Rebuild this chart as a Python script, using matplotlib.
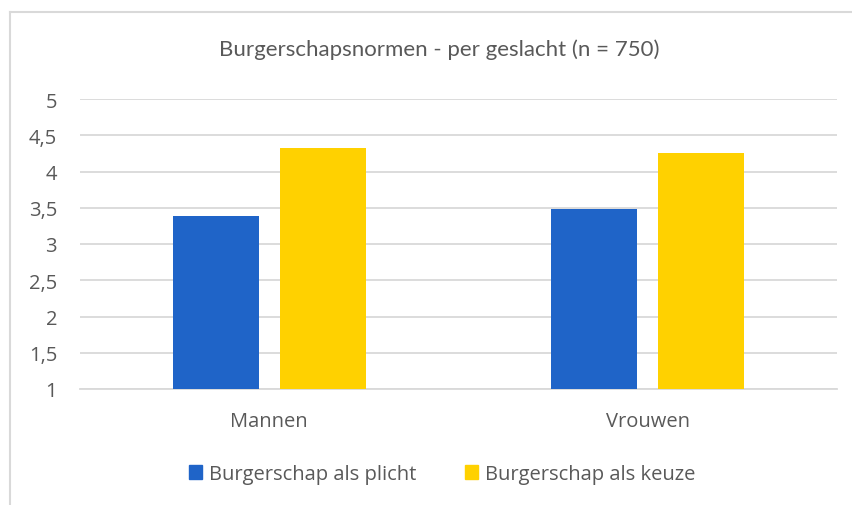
import matplotlib
matplotlib.use('Agg')
import matplotlib.pyplot as plt
from matplotlib.patches import Patch
from matplotlib.lines import Line2D
import numpy as np

categories = ['Mannen', 'Vrouwen']
series_names = ['Burgerschap als plicht', 'Burgerschap als keuze']
plicht = [3.38, 3.48]
keuze = [4.32, 4.25]
yticks = [1, 1.5, 2, 2.5, 3, 3.5, 4, 4.5, 5]
ytick_labels = ['1', '1,5', '2', '2,5', '3', '3,5', '4', '4,5', '5']

blue = '#1f64c8'
yellow = '#ffd100'
grey = '#d9d9d9'
txt = '#595959'

plt.rcParams['font.family'] = ['Open Sans', 'DejaVu Sans']

fig = plt.figure(figsize=(8.52, 5.06), dpi=100)
W, H = 852.0, 506.0
ax = fig.add_axes([80 / W, 1 - 390 / H, 757 / W, 290 / H])

x = np.arange(len(categories))
w = 0.227
off = 0.141
ax.bar(x - off, np.array(plicht) - 1, w, bottom=1, color=blue, zorder=3)
ax.bar(x + off, np.array(keuze) - 1, w, bottom=1, color=yellow, zorder=3)

ax.set_xlim(-0.5, 1.5)
ax.set_ylim(1, 5)
ax.set_yticks(yticks)
ax.set_yticklabels(ytick_labels)
ax.set_xticks(x)
ax.set_xticklabels(categories)
ax.yaxis.grid(True, color=grey, lw=1.3, zorder=0)
ax.set_axisbelow(True)
for s in ['top', 'right', 'left']:
    ax.spines[s].set_visible(False)
ax.spines['bottom'].set_color(grey)
ax.spines['bottom'].set_linewidth(1.3)
ax.tick_params(axis='both', length=0, labelsize=14.5, colors=txt)
ax.tick_params(axis='y', pad=16.5)
ax.tick_params(axis='x', pad=16)

fig.text(439 / W, 1 - 50 / H, 'Burgerschapsnormen - per geslacht (n = 750)',
         ha='center', va='center', fontsize=16, color=txt, family=['Lato', 'DejaVu Sans'])

handles = [Patch(color=blue, label=series_names[0]),
           Patch(color=yellow, label=series_names[1])]
fig.legend(handles=handles, loc='center', bbox_to_anchor=(442 / W, 1 - 475 / H),
           ncol=2, frameon=False, fontsize=14.5, handlelength=0.65, handleheight=0.65,
           handletextpad=0.35, columnspacing=2.4, labelcolor=txt)

# chart border (only top and left visible)
fig.add_artist(Line2D([10 / W, 10 / W], [0, 1 - 13 / H], color=grey, lw=1.5,
                      transform=fig.transFigure))
fig.add_artist(Line2D([10 / W, 1], [1 - 13 / H, 1 - 13 / H], color=grey, lw=1.5,
                      transform=fig.transFigure))

fig.savefig('out.png', dpi=100)
